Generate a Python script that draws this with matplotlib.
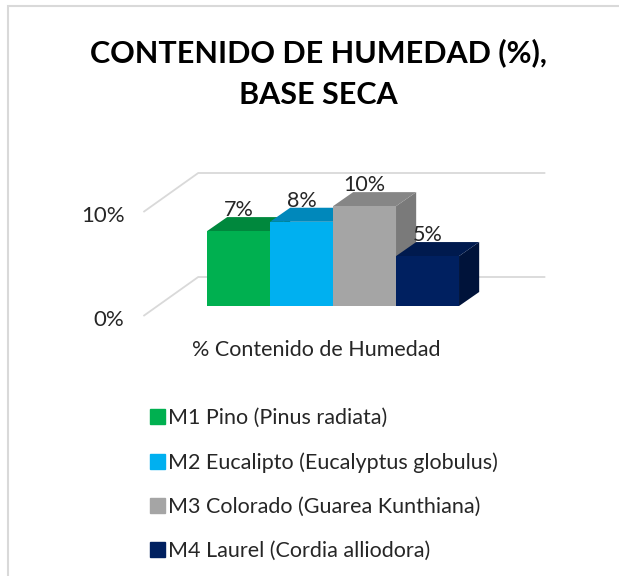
import matplotlib.pyplot as plt
from matplotlib.patches import Polygon, Patch, Rectangle

plt.rcParams['font.family'] = ['Lato', 'DejaVu Sans']

# data (moisture content, dry basis, %)
categories = ['M1 Pino (Pinus radiata)',
              'M2 Eucalipto (Eucalyptus globulus)',
              'M3 Colorado (Guarea Kunthiana)',
              'M4 Laurel (Cordia alliodora)']
moisture = [7.2, 8.1, 9.6, 4.8]
y_ticks = [0, 10]
group_label = '% Contenido de Humedad'
title = 'CONTENIDO DE HUMEDAD (%),\nBASE SECA'

colors = ['#00b050', '#00b0f0', '#a5a5a5', '#002060']
top_colors = ['#00883d', '#0088bb', '#868686', '#001a4e']
side_colors = ['#007334', '#00739e', '#7a7a7a', '#00133a']

# oblique 3d look, offsets in data units
depth_dx, depth_dy = 0.32, 1.35      # bar depth
floor_dx, floor_dy = -0.22, -0.96    # front edge of floor vs bar front
wall_dx, wall_dy = 0.65, 2.79        # back wall vs bar front
grid_left = -1.29                    # floor front-left edge (before floor_dx)
grid_right = 4.87


def draw_gridlines(ax):
    for v in y_ticks:
        x0, y0 = grid_left + floor_dx, v + floor_dy
        x1, y1 = grid_left + wall_dx, v + wall_dy
        ax.plot([x0, x1, grid_right], [y0, y1, y1], color='#d9d9d9',
                lw=1.3, zorder=1, solid_capstyle='butt')
        ax.text(x0 - 0.3, y0 - 0.35, '%d%%' % v, ha='right', va='center',
                fontsize=16, color='#262626')


def draw_bars(ax):
    n = len(moisture)
    fronts = ax.bar(range(n), moisture, width=1.0, color=colors, zorder=3)
    for i, (bar, v) in enumerate(zip(fronts, moisture)):
        x0 = bar.get_x()
        x1 = x0 + bar.get_width()
        side = [(x1, 0), (x1 + depth_dx, depth_dy),
                (x1 + depth_dx, v + depth_dy), (x1, v)]
        top = [(x0, v), (x0 + depth_dx, v + depth_dy),
               (x1 + depth_dx, v + depth_dy), (x1, v)]
        ax.add_patch(Polygon(side, closed=True, color=side_colors[i],
                             lw=0, zorder=3 + i * 0.1))
        ax.add_patch(Polygon(top, closed=True, color=top_colors[i],
                             lw=0, zorder=3 + i * 0.1 + 0.05))
        bar.set_zorder(3 + i * 0.1 + 0.06)
        ax.text(bar.get_x() + bar.get_width() / 2, v + depth_dy - 0.3,
                '%.0f%%' % v, ha='center', va='bottom', fontsize=15.5,
                color='#262626', zorder=10)


fig = plt.figure(figsize=(6.19, 5.76), dpi=100)
ax = fig.add_axes([0.1309, 0.4326, 0.8142, 0.2889])
ax.set_xlim(-2.5, 5.5)
ax.set_ylim(-2, 14)
ax.set_axis_off()

draw_gridlines(ax)
draw_bars(ax)

fig.text(0.514, 0.872, title, ha='center', va='center', fontsize=22,
         weight='bold', linespacing=1.6, color='#000000')
fig.text(316 / 619, 1 - 350 / 576, group_label, ha='center', va='center',
         fontsize=15.5, color='#262626')

handles = [Patch(color=c, label=lab) for c, lab in zip(colors, categories)]
fig.legend(handles=handles, loc='upper left',
           bbox_to_anchor=(150 / 619, 1 - 408 / 576), frameon=False,
           fontsize=15.5, handlelength=0.7, handleheight=0.7,
           handletextpad=0.15, labelspacing=1.12, borderpad=0,
           borderaxespad=0, labelcolor='#262626')

# thin chart border (left and top edges visible)
fig.patches.append(Rectangle((8 / 619, -0.1), 1.2, 1.1 - 6 / 576,
                             transform=fig.transFigure, fill=False,
                             ec='#d9d9d9', lw=1.5))

fig.savefig('out.png', dpi=100, facecolor='white')
